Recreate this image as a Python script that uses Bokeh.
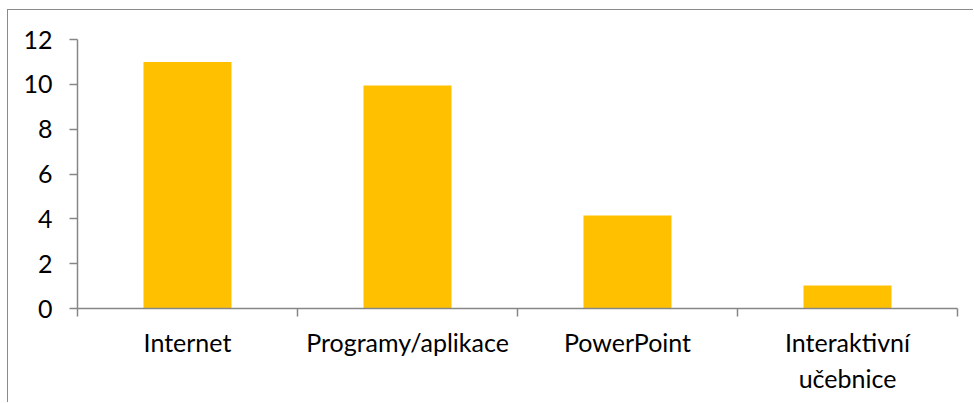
from bokeh.plotting import figure
from bokeh.models import Range1d, FixedTicker, ColumnDataSource
from bokeh.embed import file_html
from bokeh.resources import INLINE

categories = ["Internet", "Programy/aplikace", "PowerPoint", "Interaktivní\nučebnice"]
values = [11, 9.95, 4.15, 1.03]
y_ticks = [0, 2, 4, 6, 8, 10, 12]

FONT = "Lato"
GRAY = "#868686"

x_pos = [i + 0.5 for i in range(len(categories))]
src = ColumnDataSource(dict(x=x_pos, top=values))

p = figure(width=966, height=393, output_backend="svg", toolbar_location=None,
           x_range=Range1d(0, len(categories)), y_range=Range1d(0, 12),
           min_border_left=69, min_border_right=17, min_border_top=29, min_border_bottom=95)
p.styles = {"border-left": "1px solid #8a8a8a", "border-top": "1px solid #8a8a8a",
            "margin-left": "7px", "margin-top": "9px"}
p.outline_line_color = None
p.grid.visible = False

p.vbar(x="x", top="top", bottom=0, width=0.4, source=src, color="#FFC000", line_color=None)

# y axis
ya = p.yaxis[0]
ya.ticker = FixedTicker(ticks=y_ticks, minor_ticks=[])
ya.axis_line_color = GRAY
ya.axis_line_width = 1.5
ya.major_tick_line_color = GRAY
ya.major_tick_line_width = 1.5
ya.major_tick_out = 8
ya.major_tick_in = 0
ya.major_label_standoff = 17
ya.major_label_text_font = FONT
ya.major_label_text_font_size = "25px"
ya.major_label_text_color = "#000000"

# x axis
xa = p.xaxis[0]
xa.ticker = FixedTicker(ticks=x_pos, minor_ticks=list(range(len(categories) + 1)))
xa.major_label_overrides = {x: c for x, c in zip(x_pos, categories)}
xa.axis_line_color = GRAY
xa.axis_line_width = 1.5
xa.major_tick_line_color = None
xa.major_tick_out = 0
xa.major_tick_in = 0
xa.minor_tick_line_color = GRAY
xa.minor_tick_line_width = 1.5
xa.minor_tick_out = 8
xa.minor_tick_in = 0
xa.major_label_standoff = 10
xa.major_label_text_font = FONT
xa.major_label_text_font_size = "25px"
xa.major_label_text_color = "#000000"

open("out.html", "w").write(file_html(p, INLINE))
